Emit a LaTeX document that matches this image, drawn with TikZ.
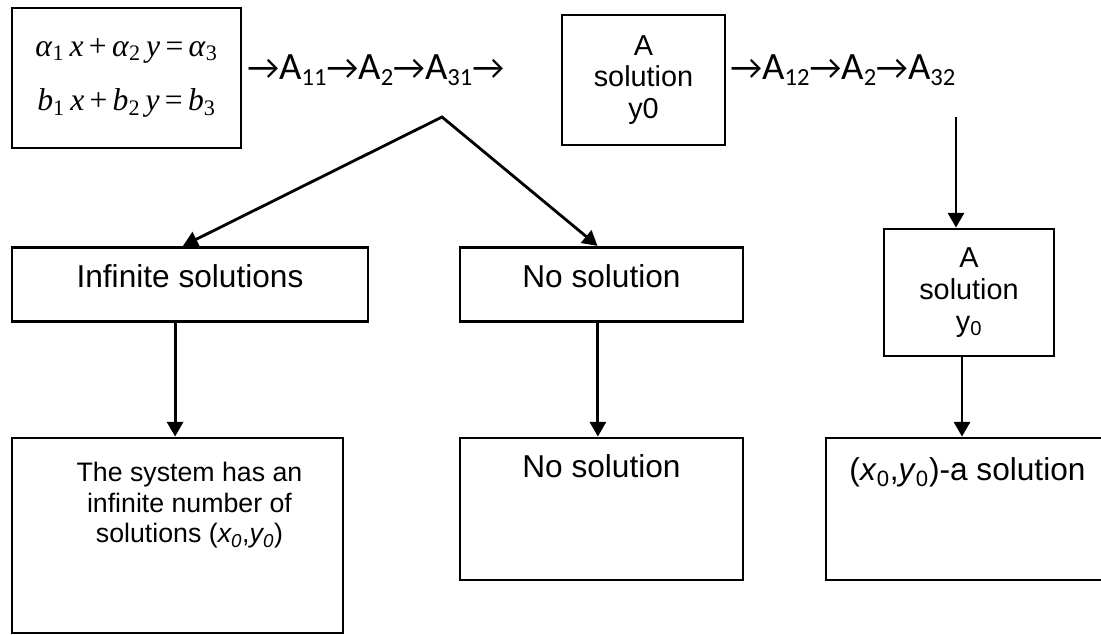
\documentclass[tikz,border=0pt]{standalone}
\usepackage{fontspec}
\setmainfont{Liberation Sans}
\newfontfamily\chainfont{Carlito}
\newfontfamily\eqfont{Liberation Serif}
\newcommand{\nextstep}{{\fontsize{25}{26}\selectfont →}}
\newcommand{\idx}[1]{\raisebox{-0.3ex}{\fontsize{17.5}{18}\selectfont #1}}
\usetikzlibrary{arrows.meta}
\usetikzlibrary{positioning}

\begin{document}
\begin{tikzpicture}[x=0.025cm, y=-0.025cm, line width=2pt, >={Triangle[length=10.5pt,width=11.5pt]}]
        \tikzstyle{box} = [draw, rectangle, inner sep=0pt, align=center]
        \tikzstyle{steps} = [inner sep=0pt, anchor=base west, font=\chainfont\fontsize{27.5}{30}\selectfont]
        \tikzstyle{big} = [font=\fontsize{22.5}{24}\selectfont]
        \tikzstyle{mid} = [font=\fontsize{20.5}{22.5}\selectfont]
        \useasboundingbox (0,0) rectangle (1101,635);
        \clip (0,0) rectangle (1101,635);

        % top row
        \node[box, minimum width=5.725cm, minimum height=3.5cm, font=\eqfont\fontsize{22.5}{39}\selectfont] (system) at (126.5,78)
                {\textit{α}\textsubscript{1}\,\textit{x}\,+\,\textit{α}\textsubscript{2}\,\textit{y}\,=\,\textit{α}\textsubscript{3}\\
                 \textit{b}\textsubscript{1}\,\textit{x}\,+\,\textit{b}\textsubscript{2}\,\textit{y}\,=\,\textit{b}\textsubscript{3}};
        \node[steps] (stepsA) at (246,80) {\nextstep A\idx{11}\nextstep A\idx{2}\nextstep A\idx{31}\nextstep};
        \node[box, mid, minimum width=4.075cm, minimum height=3.25cm] (firsty) at (643.5,80) {A\\solution\\y0};
        \node[steps] (stepsB) at (729,80) {\nextstep A\idx{12}\nextstep A\idx{2}\nextstep A\idx{32}};
        \coordinate (fork) at (442,117);
        \coordinate (drop) at (956,117);

        % middle row
        \node[box, big, minimum width=8.9cm, text height=1.01cm, text depth=0.85cm] (infinite) at (190,284.5) {Infinite solutions};
        \node[box, big, minimum width=7.075cm, text height=1.01cm, text depth=0.85cm] (none) at (601.5,284.5) {No solution};
        \node[box, mid, minimum width=4.25cm, minimum height=3.175cm] (secondy) at (969,292.5) {A\\solution\\y\textsubscript{0}};

        % bottom row
        \node[box, minimum width=8.275cm, minimum height=4.875cm] (infinitebox) at (177.5,535.5) {};
        \node[align=center, inner sep=0pt, font=\fontsize{19}{21.7}\selectfont, below=0.61cm of infinitebox.north, xshift=0.3cm] (infinitetext)
                {The system has an\\infinite number of\\solutions (\textit{x\textsubscript{0}},\textit{y\textsubscript{0}})};
        \node[box, big, minimum width=7.075cm, text height=1.0cm, text depth=2.55cm] (nonefinal) at (601.5,509) {No solution};
        \node[box, big, minimum width=7.075cm, text height=1.075cm, text depth=2.475cm] (pair) at (967.5,509)
                {(\textit{x}\textsubscript{0},\textit{y}\textsubscript{0})-a solution};

        % connectors
        \draw[<->] ([xshift=-0.175cm]infinite.north) -- (fork) -- ([xshift=-0.1cm]none.north);
        \draw[->] ([xshift=-0.06cm]infinitebox.north |- infinite.south) -- ([xshift=-0.06cm]infinitebox.north);
        \draw[->] ([xshift=-0.09cm]none.south) -- ([xshift=-0.09cm]nonefinal.north);
        \draw[->] (drop) -- (drop |- secondy.north);
        \draw[->] ([xshift=-0.175cm]secondy.south) -- ([xshift=-0.175cm]secondy.south |- pair.north);
\end{tikzpicture}
\end{document}
